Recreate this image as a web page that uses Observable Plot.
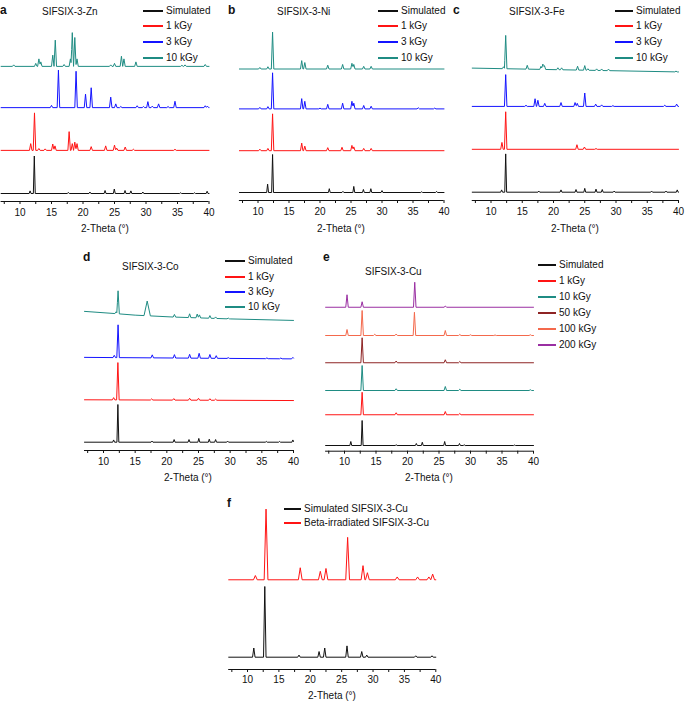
<!DOCTYPE html>
<html>
<head>
<meta charset="utf-8">
<script src="https://cdn.jsdelivr.net/npm/d3@7"></script>
<script src="https://cdn.jsdelivr.net/npm/@observablehq/plot@0.6"></script>
<style>
  body { margin: 0; background: #fff; }
  #fig { position: relative; width: 685px; height: 703px; background: #fff; overflow: hidden;
         font-family: "Liberation Sans", Arial, Helvetica, sans-serif; color: #111; }
  .t { position: absolute; white-space: nowrap; line-height: 1; transform: translate(0, -50%); }
  .c { transform: translate(-50%, -50%); }
  .sw { position: absolute; height: 2px; }
  .pl { position: absolute; }
  .pl svg { overflow: visible; }
</style>
</head>
<body>
<div id="fig"></div>
<script>
// ---------- tick values ----------
const X_MAJOR = [10, 15, 20, 25, 30, 35, 40];
const X_MINOR = [7.5, 12.5, 17.5, 22.5, 27.5, 32.5, 37.5];
const AXIS_TITLE = "2-Theta (°)";

// ---------- peak lists: [2-theta, height(, half-width)] ----------
// a: SIFSIX-3-Zn
const znSim = [[11.6,7],[12.27,100],[17.67,3],[21.1,4],[23.5,8],[24.97,12],[26.67,8],[27.6,7],[29.5,4],[35.5,2],[37.7,2],[39.7,6]];
const zn1 = [[11.7,18],[12.3,100],[13.0,5],[14.0,4],[15.2,17],[15.55,12],[17.8,50],[18.3,18],[18.7,22],[19.05,18],[21.3,10],[23.6,12],[25.0,14],[25.35,6],[26.7,9],[28.0,3],[34.6,3]];
const zn3 = [[15.0,6],[16.1,100],[18.9,97],[20.4,36],[21.3,53],[24.4,28],[25.2,10],[26.0,3],[28.6,5],[29.6,3],[30.3,16],[31.0,4],[32.0,10],[33.5,3],[34.6,17],[39.4,5],[39.75,4]];
const zn10 = [[9.0,4],[12.5,8],[13.0,20],[13.3,12],[15.2,30],[15.6,70],[17.0,5],[18.0,20],[18.3,90],[18.7,77],[19.05,20],[24.4,4],[25.0,8],[26.1,27],[26.5,20],[28.4,12],[35.7,3],[36.2,4],[39.4,5]];
// b: SIFSIX-3-Ni
const niSim = [[11.55,22],[12.35,100],[21.5,10],[23.7,3],[25.45,16],[27.0,8],[28.2,10],[30.0,5],[36.4,2],[38.8,3]];
const ni1 = [[10.3,4],[11.6,6],[12.35,97],[17.05,20],[17.55,12],[21.25,8],[23.55,9],[25.15,14],[25.45,10],[27.05,6],[28.25,6]];
const ni3 = [[10.3,4],[11.6,6],[12.35,95],[17.05,27],[17.55,20],[20.0,2],[21.25,12],[23.65,15],[25.15,20],[25.45,15],[27.05,9],[28.25,7],[35.85,3],[38.5,2]];
const ni10 = [[10.3,4],[11.6,6],[12.35,97],[17.05,22],[17.55,17],[21.25,10],[23.65,12],[25.15,15],[25.45,12],[27.05,7],[28.25,7]];
// c: SIFSIX-3-Fe
const feSim = [[11.7,6],[12.35,100],[17.65,3],[21.2,6],[23.6,7],[25.0,10],[26.8,8],[27.8,7],[29.7,3],[35.7,3],[38.0,3],[39.8,6]];
const fe1 = [[11.75,18],[12.35,98],[23.75,12],[24.95,6],[26.8,2]];
const fe3 = [[12.35,83],[15.6,3],[17.05,20],[17.5,16],[18.6,8],[21.2,10],[23.45,10],[23.8,8],[25.0,35],[26.75,6],[27.7,4],[29.5,2],[37.8,3],[39.7,6]];
const fe10 = [[12.0,5],[12.35,87],[15.8,10],[18.0,8],[18.3,14],[18.55,10],[20.7,5],[21.3,5],[23.85,10],[25.0,12],[25.5,4],[26.9,4],[27.7,4],[28.8,4],[39.6,2]];
const fe10Base = [[7,0],[40,-10]];
// d: SIFSIX-3-Co
const coSim = [[11.6,6],[12.27,100],[17.66,3],[21.15,7],[23.5,7],[25.05,10],[26.7,8],[27.7,7],[29.6,3],[35.7,2],[37.8,2],[39.9,6]];
const co1 = [[11.6,6],[12.27,99],[17.6,3],[21.1,4],[23.6,5],[25.0,5],[26.8,4],[27.7,3]];
const co3 = [[11.7,6],[12.3,87],[17.7,8],[21.2,9],[23.6,10],[25.1,13],[26.8,10],[27.8,7],[29.7,2],[35.8,2],[38.0,2],[39.9,4]];
const co10 = [[12.0,5],[12.3,61],[16.9,39,0.5],[21.2,7],[23.6,10],[24.8,10],[25.15,8],[26.8,7],[27.7,4],[29.7,2]];
const co1Base = [[7,0],[40,-2]];
const co3Base = [[7,0],[40,-4]];
const co10Base = [[7,0],[12,-6],[15,-10],[21,-15],[30,-20],[40,-24]];
// e: SIFSIX-3-Cu
const cuSim = [[11.0,16],[12.8,100],[18.2,3],[21.4,8],[22.35,13],[25.9,16],[28.25,8],[29.0,3],[37.0,2]];
const cu1 = [[12.8,90],[18.2,8],[26.0,13],[28.3,5]];
const cu10 = [[12.8,100],[18.2,7],[26.0,16],[28.3,5],[39.5,3]];
const cu50 = [[12.8,100],[18.2,7],[26.0,12],[28.3,5]];
const cu100 = [[10.4,24],[12.8,100],[14.8,5],[18.2,6],[21.1,93],[26.0,20],[28.3,4],[30.0,3],[33.9,2],[39.5,3]];
const cu200 = [[10.4,50],[12.8,22],[21.15,100],[26.0,5]];
// f: simulated vs beta-irradiated SIFSIX-3-Cu
const fSim = [[11.0,13],[12.75,100],[18.2,3],[21.4,8],[22.3,13],[25.85,16],[28.2,8],[29.0,3],[36.8,2],[39.4,2]];
const fBeta = [[11.25,6],[12.95,100],[18.4,17],[21.6,12],[22.5,16],[25.95,60],[28.4,20],[29.1,10],[33.85,4],[37.1,4],[38.9,4],[39.5,8]];

// ---------- series names ----------
const namesABCD = ["Simulated", "1 kGy", "3 kGy", "10 kGy"];
const namesE = ["Simulated", "1 kGy", "10 kGy", "50 kGy", "100 kGy", "200 kGy"];
const namesF = ["Simulated SIFSIX-3-Cu", "Beta-irradiated SIFSIX-3-Cu"];

const C = { k: "#111111", r: "#ff1414", b: "#1414ff", t: "#1f8c83", dr: "#8e2424", o: "#f4694c", p: "#9a2fa2" };

const panels = [
  { letter: "a", title: "SIFSIX-3-Zn", box: [0, 0, 222, 240], x7: 0.6, x40: 208.5, axisY: 201, baseY: 193, k: 0.375, topY: 20,
    titleX: 42, titleY: 12, legX: 143, legW: 20, legY: [11, 26, 42, 57.5], axT: [105, 229],
    series: [[znSim, 0], [zn1, 115], [zn3, 229], [zn10, 339]], colors: [C.k, C.r, C.b, C.t], names: namesABCD },
  { letter: "b", title: "SIFSIX-3-Ni", box: [225, 0, 225, 240], x7: 238.9, x40: 443.5, axisY: 200, baseY: 192, k: 0.38, topY: 20,
    titleX: 277, titleY: 12, legX: 378, legW: 20, legY: [11, 26, 42, 57.5], axT: [341, 229],
    series: [[niSim, 0], [ni1, 110], [ni3, 220], [ni10, 325]], colors: [C.k, C.r, C.b, C.t], names: namesABCD },
  { letter: "c", title: "SIFSIX-3-Fe", box: [450, 0, 235, 240], x7: 471.75, x40: 678, axisY: 200, baseY: 191.7, k: 0.383, topY: 20,
    titleX: 509, titleY: 12, legX: 615, legW: 18, legY: [11, 26, 42, 57.5], axT: [575, 229],
    series: [[feSim, 0], [fe1, 112], [fe3, 224], [fe10, 324, fe10Base]], colors: [C.k, C.r, C.b, C.t], names: namesABCD },
  { letter: "d", title: "SIFSIX-3-Co", box: [0, 240, 310, 232], x7: 84, x40: 293, axisY: 450, baseY: 441.7, k: 0.377, topY: 258,
    titleX: 122, titleY: 267, legX: 225, legW: 20, legY: [261, 277, 292, 307], axT: [188, 478], letterXY: [83, 257],
    series: [[coSim, 0], [co1, 112.5, co1Base], [co3, 225, co3Base], [co10, 347, co10Base]], colors: [C.k, C.r, C.b, C.t], names: namesABCD },
  { letter: "e", title: "SIFSIX-3-Cu", box: [310, 240, 228, 232], x7: 325.1, x40: 533, axisY: 450.7, baseY: 445, k: 0.25, topY: 258,
    titleX: 365, titleY: 272, legX: 538, legW: 18, legY: [265, 281, 297, 313, 329, 345], axT: [429, 478], letterXY: [323, 257],
    series: [[cuSim, 0], [cu1, 123], [cu10, 220], [cu50, 331], [cu100, 440], [cu200, 553]],
    colors: [C.k, C.r, C.t, C.dr, C.o, C.p], names: namesE },
  { letter: "f", title: null, box: [210, 472, 240, 231], x7: 228.2, x40: 435.3, axisY: 669, baseY: 656.7, k: 0.707, topY: 490,
    legX: 284, legW: 17, legY: [509, 523], axT: [332, 696], letterXY: [227, 503], simW: 0.2, expW: 0.3, tickPad: 3,
    series: [[fSim, 0], [fBeta, 109.5]], colors: [C.k, C.r], names: namesF }
];

// ---------- build a trace polyline from its peak list ----------
function baseAt(base, x) {
  for (let i = 0; i < base.length - 1; i++) {
    const [x0, y0] = base[i], [x1, y1] = base[i + 1];
    if (x >= x0 && x <= x1) return y0 + (y1 - y0) * (x - x0) / (x1 - x0);
  }
  return base[base.length - 1][1];
}
function tracePoints(peaks, offset, base, w) {
  base = base || [[7, 0], [40, 0]];
  const xs = new Set([7, 40, ...base.map(d => d[0])]);
  for (const p of peaks) {
    const hw = p[2] || w;
    for (const x of [p[0] - hw, p[0], p[0] + hw]) if (x >= 7 && x <= 40) xs.add(x);
  }
  return [...xs].sort((a, b) => a - b).map(x => {
    let y = offset + baseAt(base, x);
    for (const p of peaks) {
      const hw = p[2] || w;
      const d = Math.abs(x - p[0]);
      if (d < hw) y += p[1] * (1 - d / hw);
    }
    return { x, y };
  });
}

const fig = document.getElementById("fig");
function addText(txt, x, y, opts = {}) {
  const el = document.createElement("div");
  el.className = "t" + (opts.center ? " c" : "");
  el.textContent = txt;
  el.style.left = x + "px";
  el.style.top = y + "px";
  el.style.fontSize = (opts.size || 10) + "px";
  if (opts.bold) el.style.fontWeight = "bold";
  fig.appendChild(el);
}
function addSwatch(x, y, w, color) {
  const el = document.createElement("div");
  el.className = "sw";
  el.style.left = x + "px";
  el.style.top = (y - 1) + "px";
  el.style.width = w + "px";
  el.style.background = color;
  fig.appendChild(el);
}

for (const P of panels) {
  const [L, T, W, H] = P.box;
  const lo = -(P.axisY - P.baseY) / P.k;
  const hi = (P.baseY - P.topY) / P.k;
  const simW = P.simW || 0.15, expW = P.expW || 0.2;
  const lines = P.series.map(([peaks, off, base], i) =>
    Plot.line(tracePoints(peaks, off, base, i === 0 ? simW : expW),
      { x: "x", y: "y", stroke: P.colors[i], strokeWidth: 1, strokeLinejoin: "round" }));
  const svg = Plot.plot({
    width: W, height: H,
    marginLeft: P.x7 - L, marginRight: L + W - P.x40,
    marginTop: P.topY - T, marginBottom: T + H - P.axisY,
    x: { domain: [7, 40] },
    y: { domain: [lo, hi], axis: null },
    style: { background: "transparent", fontFamily: "'Liberation Sans', Arial, sans-serif", fontSize: "10px", color: "#111", overflow: "visible" },
    marks: [
      ...lines,
      Plot.ruleY([lo], { stroke: "#111", strokeWidth: 1 }),
      Plot.axisX({ ticks: X_MINOR, tickSize: 3, tickFormat: () => "", label: null }),
      Plot.axisX({ ticks: X_MAJOR, tickSize: 3, tickPadding: P.tickPad || 4, label: null, fontSize: 10 })
    ]
  });
  const holder = document.createElement("div");
  holder.className = "pl";
  holder.style.left = L + "px";
  holder.style.top = T + "px";
  holder.style.width = W + "px";
  holder.style.height = H + "px";
  holder.appendChild(svg);
  fig.appendChild(holder);
}

// texts and legends on top of all plots
for (const P of panels) {
  const L = P.box[0];
  const lxy = P.letterXY || [L + (P.letter === "a" ? 0 : 3), 10];
  addText(P.letter, lxy[0], lxy[1], { bold: true, size: 12 });
  if (P.title) addText(P.title, P.titleX, P.titleY, { size: 10 });
  P.names.forEach((n, i) => {
    addSwatch(P.legX, P.legY[i], P.legW, P.colors[i]);
    addText(n, P.legX + P.legW + 3, P.legY[i], { size: 10 });
  });
  addText(AXIS_TITLE, P.axT[0], P.axT[1], { center: true, size: 10 });
}
</script>
</body>
</html>
